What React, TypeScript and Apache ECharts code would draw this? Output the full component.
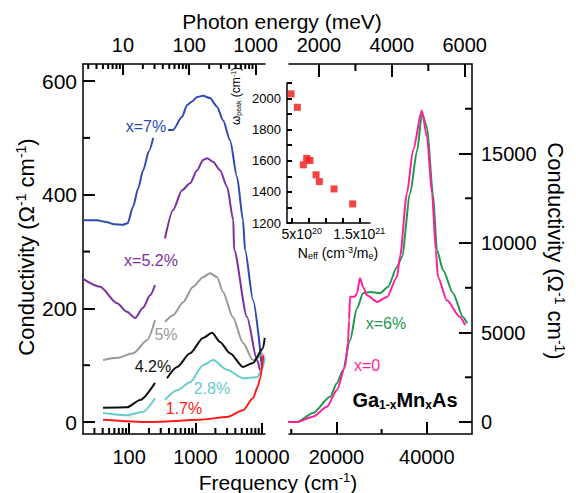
import React, { useEffect, useRef } from "react";
import * as echarts from "echarts";

const FONT = "'Liberation Sans', Arial, Helvetica, sans-serif";
const CM_PER_MEV = 8.0655;

const leftFreqRange = [20.2, 11200];
const rightFreqRange = [9500, 50000];
const leftSigmaRange = [-21, 630];
const rightSigmaRange = [-667, 20000];
const insetNRange = [4.3e20, 1.658e21];
const insetWRange = [1200, 2100];

const bottomLeftMajor = [100, 1000, 10000];
const bottomLeftMinor = [30, 40, 50, 60, 70, 80, 90, 200, 300, 400, 500, 600, 700, 800, 900, 2000, 3000, 4000, 5000, 6000, 7000, 8000, 9000];
const topLeftMajor = [10, 100, 1000]; // meV
const topLeftMinor = [3, 4, 5, 6, 7, 8, 9, 20, 30, 40, 50, 60, 70, 80, 90, 200, 300, 400, 500, 600, 700, 800, 900]; // meV
const bottomRightMajor = [20000, 40000];
const bottomRightMinor = [10000, 30000];
const topRightMajor = [2000, 4000, 6000]; // meV
const topRightMinor = [3000, 5000]; // meV
const leftYMajor = [0, 200, 400, 600];
const leftYMinor = [100, 300, 500];
const rightYMajor = [0, 5000, 10000, 15000];
const rightYMinor = [2500, 7500, 12500, 17500];
const insetXTicks = [5e20, 7.5e20, 1e21, 1.25e21, 1.5e21];
const insetXLabels = [5e20, 1.5e21];
const insetYTicks = [1200, 1300, 1400, 1500, 1600, 1700, 1800, 1900, 2000, 2100];
const insetYLabels = [1200, 1400, 1600, 1800, 2000];

// left panel: [frequency cm^-1, conductivity]
const blue7 = [[20, 355], [33, 355], [45, 352], [60, 348], [80, 347], [95, 350], [115, 379], [137, 411], [163, 443], [200, 477], [231, 500], [300, null], [387, 514], [460, 514], [629, 537], [749, 558], [891, 564], [1060, 572], [1304, 574], [1662, 570], [2120, 555], [2610, 531], [3328, 496], [4245, 431], [5226, 355], [5600, 303], [7390, 215], [10110, 95]];
const purple52 = [[20.2, 252], [36.6, 238], [66, 209], [93, 194], [123, 183], [162, 201], [207, 223], [246, 241], [300, null], [348, 323], [460, 373], [629, 408], [830, 420], [1060, 443], [1304, 461], [1500, 464], [1845, 458], [2353, 443], [3000, 414], [3733, 355], [3823, 303], [6000, 185], [8500, 109], [9420, 91]];
const gray5 = [[40.5, 109], [66, 113], [115, 121], [187, 144], [246, 179], [300, null], [348, 176], [460, 188], [653, 211], [922, 238], [1304, 255], [1662, 262], [2120, 255], [2610, 229], [3660, 185], [5226, 139], [7390, 109], [10470, 121]];
const black42 = [[40.5, 25], [93, 26], [147, 39], [246, 69], [300, null], [373, 77], [531, 97], [830, 121], [1304, 148], [1780, 157], [2350, 141], [3328, 121], [5226, 97], [7390, 104], [10470, 130], [11100, 148]];
const cyan28 = [[40.5, 16], [93, 12], [162, 18], [246, 42], [300, null], [348, 39], [531, 56], [830, 70], [1304, 100], [1850, 109], [3000, 92], [5226, 77], [8500, 79], [10470, 97], [11100, 114]];
const red17 = [[40.5, 4], [207, 0], [1175, 4], [3000, 9], [5226, 21], [7390, 42], [8697, 62], [9420, 76], [10600, 118]];

// right panel
const pink0 = [[4650, 0], [11300, 0], [14800, 300], [17900, 850], [20100, 1790], [21900, 3080], [22550, 4400], [22800, 5700], [23000, 7000], [24100, 7000], [24550, 7200], [25200, 8030], [25900, 7550], [26750, 7080], [28950, 6710], [31200, 6990], [33400, 8100], [34050, 9220], [35600, 12770], [36950, 15170], [38900, 17400], [40050, 15900], [41150, 12770], [42000, 9600], [42450, 8100], [44450, 6800], [47350, 5870], [48450, 5410]];
const green6 = [[4650, 50], [11300, 0], [14800, 500], [18600, 1410], [20100, 2170], [21450, 2900], [23000, 4570], [24550, 6360], [25900, 7200], [27450, 7270], [29650, 7200], [31400, 7550], [33400, 8660], [34500, 9220], [36300, 12770], [37850, 15170], [38950, 17230], [40050, 16470], [41350, 12770], [42250, 9600], [43600, 8480], [45800, 7200], [48000, 5870], [48900, 5520]];

// inset
const neff = [4.9e20, 5.83e20, 7.22e20, 7.7e20, 6.72e20, 8.6e20, 9.08e20, 1.126e21, 1.402e21];
const wpeak = [2030, 1944, 1615, 1602, 1574, 1510, 1466, 1419, 1323];

const AX = { color: "#000", width: 1.5 };
const TK = { color: "#000", width: 2 };

function axisDef(extra: any, tickVals: number[], tickLen: number, labels: number[], fontSize: number, margin: number, formatter?: any, rich?: any) {
  return {
    ...extra,
    axisLine: { show: true, onZero: false, lineStyle: AX },
    axisTick: { show: true, inside: true, length: tickLen, customValues: tickVals, lineStyle: TK },
    axisLabel: {
      show: true, customValues: labels, fontSize, fontFamily: FONT, color: "#000", margin,
      formatter: formatter || ((v: number) => String(Math.round(v))), rich,
    },
    splitLine: { show: false },
  };
}

// minor tick marks, placed through the axis scales
function ticks(xi: number, yi: number, side: string, vals: number[], len: number, edge: number, factor = 1) {
  const data = vals.map((v) => (side === "bottom" || side === "top" ? [v * factor, edge, len] : [edge, v, len]));
  return {
    type: "custom", xAxisIndex: xi, yAxisIndex: yi, silent: true, clip: false, z: 6,
    data,
    renderItem: (_p: any, api: any) => {
      const p = api.coord([api.value(0), api.value(1)]);
      const L = api.value(2);
      let x2 = p[0], y2 = p[1];
      if (side === "bottom") y2 = p[1] - L;
      else if (side === "top") y2 = p[1] + L;
      else if (side === "left") x2 = p[0] + L;
      else x2 = p[0] - L;
      return { type: "line", shape: { x1: p[0], y1: p[1], x2, y2 }, style: { stroke: "#000", lineWidth: 2 } };
    },
  };
}

const rich = (size: number, weight = "normal") => ({
  sup: { fontSize: Math.round(size * 0.62), fontFamily: FONT, fontWeight: weight, padding: [0, 0, Math.round(size * 0.45), 0] },
  sub: { fontSize: Math.round(size * 0.62), fontFamily: FONT, fontWeight: weight, padding: [Math.round(size * 0.45), 0, 0, 0] },
  pad: { width: 20 },
});

function txt(text: string, x: number, y: number, size: number, color = "#000", rotation = 0, weight = "normal") {
  return {
    type: "text", x, y, rotation, z: 10,
    style: { text, fill: color, fontSize: size, fontFamily: FONT, fontWeight: weight, align: "center", verticalAlign: "middle", rich: rich(size, weight) },
  };
}

function line(data: any[], color: string, xi: number, yi: number, clip = true) {
  return {
    type: "line", data, xAxisIndex: xi, yAxisIndex: yi, showSymbol: false, symbol: "none",
    smooth: 0.25, smoothMonotone: "x",
    lineStyle: { color, width: 2 }, itemStyle: { color }, connectNulls: false, clip, silent: true, z: 3,
  };
}

export default function App() {
  const ref = useRef<HTMLDivElement>(null);
  useEffect(() => {
    const chart = echarts.init(ref.current!, null, { renderer: "svg" });
    const lx = { type: "log", logBase: 10, min: leftFreqRange[0], max: leftFreqRange[1], gridIndex: 0 };
    const lxm = { type: "log", logBase: 10, min: leftFreqRange[0] / CM_PER_MEV, max: leftFreqRange[1] / CM_PER_MEV, gridIndex: 0 };
    const rx = { type: "value", min: rightFreqRange[0], max: rightFreqRange[1], gridIndex: 1 };
    const rxm = { type: "value", min: rightFreqRange[0] / CM_PER_MEV, max: rightFreqRange[1] / CM_PER_MEV, gridIndex: 1 };
    const insetFmt = (v: number) => (Math.abs(v - 5e20) < 1e19 ? "{pad| }5x10{sup|20}" : "1.5x10{sup|21}");
    const [lyMin, lyMax] = leftSigmaRange;
    const [ryMin, ryMax] = rightSigmaRange;
    const option: any = {
      animation: false,
      backgroundColor: "#fff",
      textStyle: { fontFamily: FONT },
      grid: [
        { left: 83, top: 64, width: 182, height: 370 },
        { left: 289, top: 64, width: 183, height: 370 },
        { left: 287, top: 83, width: 83, height: 140 },
      ],
      xAxis: [
        axisDef({ ...lx, position: "bottom" }, bottomLeftMajor, 11, bottomLeftMajor, 20, 13),
        axisDef({ ...lxm, position: "top" }, topLeftMajor, 11, topLeftMajor, 20, 9),
        axisDef({ ...rx, position: "bottom" }, bottomRightMajor, 12, bottomRightMajor, 20, 13),
        axisDef({ ...rxm, position: "top" }, topRightMajor, 13, topRightMajor, 20, 9),
        axisDef({ type: "value", min: insetNRange[0], max: insetNRange[1], gridIndex: 2, position: "bottom" }, insetXTicks, 5, insetXLabels, 14, 3, insetFmt, rich(14)),
      ],
      yAxis: [
        axisDef({ type: "value", min: lyMin, max: lyMax, gridIndex: 0, position: "left" }, leftYMajor, 12, leftYMajor, 21, 6),
        axisDef({ type: "value", min: ryMin, max: ryMax, gridIndex: 1, position: "right" }, rightYMajor, 13, rightYMajor, 20, 9),
        axisDef({ type: "value", min: insetWRange[0], max: insetWRange[1], gridIndex: 2, position: "left" }, insetYTicks, 5, insetYLabels, 13, 6),
      ],
      series: [
        line(blue7, "#2c4bb3", 0, 0),
        line(purple52, "#7b2f9f", 0, 0),
        line(gray5, "#9a9a9a", 0, 0),
        line(black42, "#111111", 0, 0),
        line(cyan28, "#66cccc", 0, 0),
        line(red17, "#ff1a1a", 0, 0),
        line(green6, "#1e9a4c", 2, 1, false),
        line(pink0, "#ff1f9a", 2, 1, false),
        {
          type: "scatter", xAxisIndex: 4, yAxisIndex: 2, symbol: "rect", symbolSize: 7,
          itemStyle: { color: "#f01414" }, data: neff.map((n, i) => [n, wpeak[i]]), z: 5, silent: true,
        },
        ticks(0, 0, "bottom", bottomLeftMinor, 6, lyMin),
        ticks(0, 0, "top", topLeftMinor, 5, lyMax, CM_PER_MEV),
        ticks(0, 0, "left", leftYMinor, 7, leftFreqRange[0]),
        ticks(2, 1, "bottom", bottomRightMinor, 5, ryMin),
        ticks(2, 1, "top", topRightMinor, 7, ryMax, CM_PER_MEV),
        ticks(2, 1, "right", rightYMinor, 7, rightFreqRange[1]),
      ],
      graphic: [
        txt("Photon energy (meV)", 282, 21, 21),
        txt("Frequency (cm{sup|-1})", 278, 482, 21),
        txt("Conductivity (Ω{sup|-1} cm{sup|-1})", 26, 247, 22, "#000", Math.PI / 2),
        txt("Conductivity (Ω{sup|-1} cm{sup|-1})", 555, 251, 22, "#000", -Math.PI / 2),
        txt("ω{sub|peak} (cm{sup|-1})", 236, 96, 12, "#000", Math.PI / 2),
        txt("N{sub|eff} (cm{sup|-3}/m{sub|e})", 338, 253, 14),
        txt("x=7%", 146, 126, 16, "#2c4bb3"),
        txt("x=5.2%", 151, 260, 16, "#7b2f9f"),
        txt("5%", 166, 334, 16, "#9a9a9a"),
        txt("4.2%", 153, 366, 16, "#111111"),
        txt("2.8%", 212, 388, 16, "#66cccc"),
        txt("1.7%", 184, 408, 16, "#ff1a1a"),
        txt("x=6%", 386, 323, 16, "#1e9a4c"),
        txt("x=0", 367, 365, 16, "#ff1f9a"),
        txt("Ga{sub|1-x}Mn{sub|x}As", 405, 400, 20, "#000", 0, "bold"),
      ],
    };
    chart.setOption(option);
    return () => chart.dispose();
  }, []);
  return <div ref={ref} style={{ position: "fixed", left: 0, top: 0, width: 576, height: 493 }} />;
}
